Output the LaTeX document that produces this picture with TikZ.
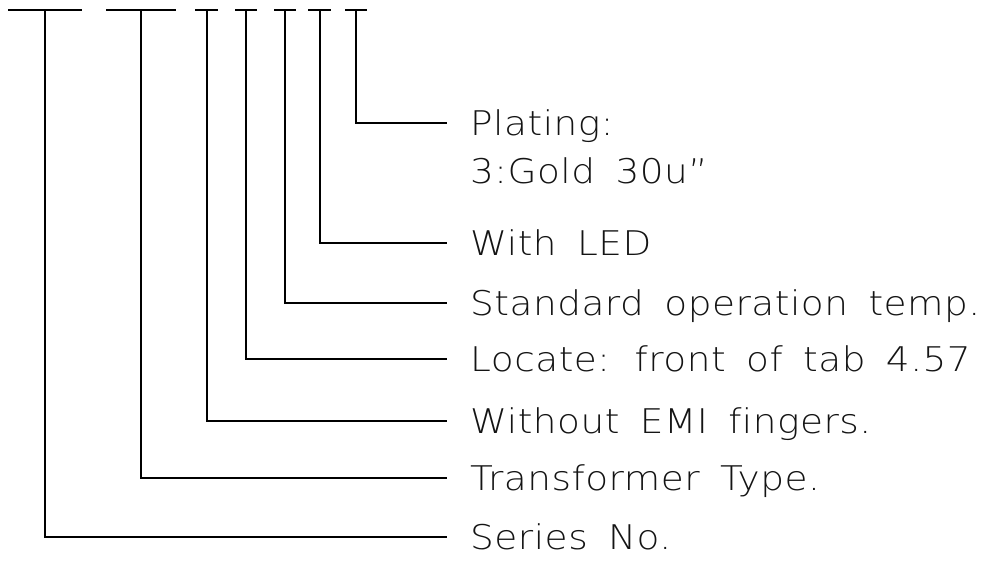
\documentclass[tikz,border=0pt]{standalone}
\usepackage{fontspec}
\newfontfamily\cadfont{DejaVu Sans ExtraLight}[FakeStretch=1.10, LetterSpace=1.5, WordSpace=1.65, Ligatures=NoCommon]
\usetikzlibrary{positioning, calc}

\begin{document}
\begin{tikzpicture}[
    x=1pt, y=-1pt,
    line cap=butt,
    bar/.style={line width=1.9pt}, % short code bars on top
    lead/.style={line width=1.6pt}, % leader lines to the texts
    lbl/.style={anchor=base west, inner sep=0pt, text=black!92,
        font=\cadfont\fontsize{34}{40}\selectfont}
]
    \useasboundingbox (0,0) rectangle (990,572);

    % === Top of each code field ===
    \coordinate (series top) at (45,10);
    \coordinate (trafo top)  at (141,10);
    \coordinate (emi top)    at (207,10);
    \coordinate (loc top)    at (246,10);
    \coordinate (temp top)   at (285,10);
    \coordinate (led top)    at (320,10);
    \coordinate (plate top)  at (356,10);

    % === Code bars ===
    \draw[bar] ([xshift=-37pt]series top) -- ([xshift=37pt]series top);
    \draw[bar] ([xshift=-35pt]trafo top) -- ([xshift=35pt]trafo top);
    \draw[bar] ([xshift=-12pt]emi top) -- ([xshift=11pt]emi top);
    \draw[bar] ([xshift=-11pt]loc top) -- ([xshift=11pt]loc top);
    \draw[bar] ([xshift=-11pt]temp top) -- ([xshift=11pt]temp top);
    \draw[bar] ([xshift=-12pt]led top) -- ([xshift=11pt]led top);
    \draw[bar] ([xshift=-11pt]plate top) -- ([xshift=11pt]plate top);

    % === Texts ===
    \node[lbl] (plate)  at (470,136) {Plating:};
    \node[lbl] (gold)   at ($(plate.base west)+(0,48)$) {3:Gold 30u”};
    \node[lbl] (led)    at (470,255) {With LED};
    \node[lbl] (temp)   at (470,315) {Standard operation temp.};
    \node[lbl] (loc)    at (470,371) {Locate: front of tab 4.57};
    \node[lbl] (emi)    at (470,433) {Without EMI fingers.};
    \node[lbl] (trafo)  at (470,490) {Transformer Type.};
    \node[lbl] (series) at (470,549) {Series No.};

    % === Leader ends, just left of each text ===
    \coordinate (plate end)  at ($(plate.base west)+(-23,-13)$);
    \coordinate (led end)    at ($(led.base west)+(-23,-12)$);
    \coordinate (temp end)   at ($(temp.base west)+(-23,-12)$);
    \coordinate (loc end)    at ($(loc.base west)+(-23,-12)$);
    \coordinate (emi end)    at ($(emi.base west)+(-23,-12)$);
    \coordinate (trafo end)  at ($(trafo.base west)+(-23,-12)$);
    \coordinate (series end) at ($(series.base west)+(-23,-12)$);

    % === Leaders ===
    \draw[lead] (plate top)  |- (plate end);
    \draw[lead] (led top)    |- (led end);
    \draw[lead] (temp top)   |- (temp end);
    \draw[lead] (loc top)    |- (loc end);
    \draw[lead] (emi top)    |- (emi end);
    \draw[lead] (trafo top)  |- (trafo end);
    \draw[lead] (series top) |- (series end);

\end{tikzpicture}
\end{document}
